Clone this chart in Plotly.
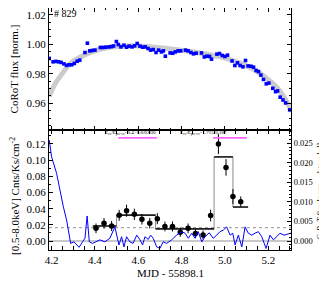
import plotly.graph_objects as go

# ---------------- data ----------------
# Top panel: CoRoT normalised flux
corot_t = [4.189, 4.207, 4.220, 4.232, 4.244, 4.257, 4.269, 4.281, 4.293, 4.305, 4.318, 4.330,
           4.354, 4.365, 4.376, 4.388, 4.400, 4.425, 4.437, 4.450, 4.465, 4.477, 4.486, 4.499,
           4.508, 4.520, 4.534, 4.546, 4.558, 4.571, 4.583, 4.595, 4.608, 4.620, 4.632, 4.645,
           4.657, 4.669, 4.682, 4.694, 4.707, 4.716, 4.725, 4.747, 4.759, 4.771, 4.784, 4.796,
           4.818, 4.830, 4.843, 4.855, 4.867, 4.892, 4.905, 4.917, 4.929, 4.938, 4.963, 4.975,
           4.988, 5.000, 5.012, 5.033, 5.046, 5.058, 5.070, 5.083, 5.095, 5.107, 5.120, 5.132,
           5.144, 5.155, 5.166, 5.178, 5.191, 5.203, 5.221, 5.234, 5.243, 5.255, 5.268, 5.280,
           5.299]
corot_flux = [0.9904, 0.9881, 0.9884, 0.9881, 0.9877, 0.9867, 0.9857, 0.9861, 0.9861, 0.9870, 0.9885, 0.9892,
              0.9944, 1.0007, 0.9955, 0.9958, 0.9960, 0.9978, 0.9978, 0.9980, 0.9982, 0.9984, 0.9988, 1.0018,
              0.9998, 0.9982, 0.9993, 0.9980, 0.9987, 0.9982, 0.9989, 1.0005, 0.9987, 0.9980, 0.9982, 0.9971,
              0.9960, 0.9964, 0.9944, 0.9960, 0.9948, 0.9955, 0.9919, 0.9941, 0.9939, 0.9948, 0.9955, 0.9955,
              0.9960, 0.9955, 0.9944, 0.9935, 0.9939, 0.9941, 0.9914, 0.9919, 0.9917, 0.9899, 0.9933, 0.9937,
              0.9924, 0.9917, 0.9926, 0.9887, 0.9856, 0.9874, 0.9856, 0.9847, 0.9890, 0.9853, 0.9851, 0.9845,
              0.9822, 0.9815, 0.9791, 0.9762, 0.9732, 0.9737, 0.9702, 0.9679, 0.9684, 0.9642, 0.9623, 0.9603,
              0.9556]

# Top panel: trend curve
trend_t = [4.189, 4.206, 4.224, 4.248, 4.271, 4.294, 4.331, 4.377, 4.423, 4.469, 4.515, 4.585,
           4.654, 4.723, 4.793, 4.862, 4.931, 5.001, 5.070, 5.116, 5.162, 5.208, 5.254, 5.301]
trend_flux = [0.9645, 0.9704, 0.9751, 0.9798, 0.9845, 0.9879, 0.9912, 0.9943, 0.9966, 0.9980, 0.9987, 0.9990,
              0.9983, 0.9973, 0.9960, 0.9946, 0.9929, 0.9906, 0.9872, 0.9842, 0.9803, 0.9751, 0.9684, 0.9570]

# Bottom panel: X-ray binned rate
xray_t = [4.405, 4.442, 4.477, 4.512, 4.546, 4.582, 4.617, 4.653, 4.688, 4.723,
          4.758, 4.794, 4.830, 4.864, 4.899, 4.934, 4.970, 5.005, 5.037, 5.073]
xray_rate = [0.0157, 0.0219, 0.0186, 0.0318, 0.0375, 0.0330, 0.0269, 0.0220, 0.0276, 0.0180,
             0.0180, 0.0110, 0.0157, 0.0092, 0.0075, 0.0315, 0.1200, 0.0910, 0.0550, 0.0486]
xray_err = [0.0060, 0.0065, 0.0062, 0.0068, 0.0075, 0.0070, 0.0065, 0.0065, 0.0068, 0.0060,
            0.0062, 0.0058, 0.0060, 0.0055, 0.0055, 0.0072, 0.0125, 0.0103, 0.0093, 0.0065]

# Bayesian blocks
block_edges = [4.39, 4.50, 4.68, 4.95, 5.037, 5.107]
block_rate = [0.0186, 0.0320, 0.0150, 0.1040, 0.0420]

quiescent_level = 0.0165

# Bottom panel: detrended CoRoT flux (right axis)
detr_t = [4.189, 4.200, 4.223, 4.238, 4.254, 4.269, 4.288, 4.303, 4.315, 4.327, 4.343, 4.354,
          4.364, 4.374, 4.389, 4.408, 4.423, 4.446, 4.469, 4.492, 4.500, 4.511, 4.523, 4.534,
          4.546, 4.561, 4.576, 4.593, 4.608, 4.620, 4.631, 4.646, 4.657, 4.669, 4.685, 4.700,
          4.715, 4.731, 4.754, 4.777, 4.800, 4.816, 4.831, 4.847, 4.862, 4.877, 4.893, 4.908,
          4.928, 4.946, 4.962, 4.977, 4.993, 5.008, 5.024, 5.036, 5.047, 5.062, 5.078, 5.093,
          5.108, 5.124, 5.139, 5.154, 5.170, 5.190, 5.208, 5.224, 5.239, 5.254, 5.273, 5.293,
          5.304]
detr_flux = [0.0258, 0.0215, 0.0173, 0.0130, 0.0088, 0.0054, -0.0006, -0.0002, -0.0008, -0.0016, -0.0002, 0.0007,
             0.0064, -0.0002, -0.0006, -0.0002, 0.0003, -0.0002, 0.0007, 0.0036, 0.0015, -0.0010, 0.0011, -0.0015,
             0.0011, -0.0002, -0.0006, 0.0015, 0.0003, -0.0010, 0.0011, 0.0004, 0.0015, 0.0007, -0.0015, -0.0019,
             -0.0002, -0.0006, 0.0003, 0.0015, 0.0024, 0.0020, 0.0007, 0.0020, 0.0007, 0.0024, -0.0002, 0.0011,
             0.0021, 0.0007, 0.0015, 0.0024, 0.0028, 0.0036, 0.0015, 0.0020, -0.0010, 0.0015, -0.0015, 0.0036,
             0.0020, 0.0015, 0.0020, 0.0024, 0.0011, -0.0019, 0.0015, 0.0003, 0.0011, 0.0020, 0.0015, 0.0018,
             0.0020]

# Energy ratio labels and their intervals
ratio_labels = ["E<sub>ev</sub>/E<sub>pre-ev</sub>=0.4+0.0/0.030",
                "E<sub>ev</sub>/E<sub>pre-ev</sub>=1.715/0.187"]
ratio_x0 = [4.508, 4.945]
ratio_x1 = [4.686, 5.102]
ratio_level = 0.1275
label_x = [4.562, 4.901]
label_level = 0.1337

star_label = "# 829"

# ---------------- figure ----------------
X_RANGE = [4.188, 5.305]
YL_RANGE = [-0.0111, 0.1373]
SCALE = 0.2066
YR_RANGE = [YL_RANGE[0] * SCALE, YL_RANGE[1] * SCALE]
YT_RANGE = [0.942, 1.0245]
SERIF = "Liberation Serif"

fig = go.Figure()

# top panel
fig.add_trace(go.Scatter(x=trend_t, y=trend_flux, xaxis="x2", yaxis="y2", mode="lines",
                         line=dict(color="#cccccc", width=5, shape="spline"), hoverinfo="skip"))
fig.add_trace(go.Scatter(x=corot_t, y=corot_flux, xaxis="x2", yaxis="y2", mode="markers",
                         marker=dict(symbol="square", size=3.6, color="#0000ff")))

# bottom panel reference lines
fig.add_trace(go.Scatter(x=X_RANGE, y=[0, 0], mode="lines",
                         line=dict(color="#c8c8c8", width=2), hoverinfo="skip"))
fig.add_trace(go.Scatter(x=X_RANGE, y=[quiescent_level] * 2, mode="lines",
                         line=dict(color="#777777", width=0.8, dash="dot"), hoverinfo="skip"))

# detrended CoRoT flux (right axis)
fig.add_trace(go.Scatter(x=detr_t, y=detr_flux, yaxis="y3", mode="lines",
                         line=dict(color="#0000ff", width=1)))

# Bayesian blocks: outline and levels
fig.add_trace(go.Scatter(x=block_edges, y=block_rate + [block_rate[-1]], mode="lines",
                         line=dict(color="#8a8a8a", width=1, shape="hv"), hoverinfo="skip"))
hx, hy = [], []
for i, r in enumerate(block_rate):
    hx += [block_edges[i], block_edges[i + 1], None]
    hy += [r, r, None]
fig.add_trace(go.Scatter(x=hx, y=hy, mode="lines", line=dict(color="#222222", width=1.6),
                         hoverinfo="skip"))

# X-ray points
fig.add_trace(go.Scatter(x=xray_t, y=xray_rate, mode="markers",
                         marker=dict(color="black", size=5.5),
                         error_y=dict(type="data", array=xray_err, color="black",
                                      thickness=1, width=0)))

# ratio intervals
mx, my = [], []
for a, b in zip(ratio_x0, ratio_x1):
    mx += [a, b, None]
    my += [ratio_level, ratio_level, None]
fig.add_trace(go.Scatter(x=mx, y=my, mode="lines", line=dict(color="#ff66ff", width=1.8),
                         hoverinfo="skip"))

annotations = []
for lab, cx in zip(ratio_labels, label_x):
    annotations.append(dict(x=cx, y=label_level, xref="x", yref="y", text=lab, showarrow=False,
                            font=dict(family=SERIF, size=5, color="black"),
                            xanchor="center", yanchor="middle"))

annotations.append(dict(x=4.2, y=1.0205, xref="x2", yref="y2", text=star_label, showarrow=False,
                        font=dict(family=SERIF, size=10, color="black"),
                        xanchor="left", yanchor="middle"))

# titles
annotations += [
    dict(x=-0.143, y=0.748, xref="paper", yref="paper", text="CoRoT flux [norm.]",
         textangle=-90, showarrow=False, xanchor="center", yanchor="middle",
         font=dict(family=SERIF, size=11, color="black")),
    dict(x=-0.143, y=0.225, xref="paper", yref="paper",
         text="[0.5-8.0keV] Cnts/Ks/cm<sup>-2</sup>",
         textangle=-90, showarrow=False, xanchor="center", yanchor="middle",
         font=dict(family=SERIF, size=11, color="black")),
    dict(x=1.125, y=0.244, xref="paper", yref="paper", text="CoRoT flux [norm. - detrended]",
         textangle=-90, showarrow=False, xanchor="center", yanchor="middle",
         font=dict(family=SERIF, size=7.5, color="black")),
    dict(x=0.5, y=-0.095, xref="paper", yref="paper", text="MJD - 55898.1",
         showarrow=False, xanchor="center", yanchor="middle",
         font=dict(family=SERIF, size=11, color="black")),
]

common_x = dict(range=X_RANGE, showline=True, linecolor="black", linewidth=1,
                mirror="allticks", ticks="inside", ticklen=4, tickcolor="black",
                dtick=0.2, tick0=4.2, tickformat=".1f",
                minor=dict(dtick=0.05, tick0=4.2, ticks="inside", ticklen=2, tickcolor="black"),
                showgrid=False, zeroline=False,
                tickfont=dict(family=SERIF, size=11, color="black"))

# page body adds an 8px offset, so the figure is sized/margined to compensate
fig.update_layout(
    width=319, height=277,
    margin=dict(l=41, r=36, t=0, b=35, autoexpand=False),
    paper_bgcolor="white", plot_bgcolor="white",
    showlegend=False,
    xaxis=dict(domain=[0, 1], anchor="y", **common_x),
    xaxis2=dict(domain=[0, 1], anchor="y2", matches="x", showticklabels=False, **common_x),
    yaxis=dict(domain=[0, 0.496], anchor="x", range=YL_RANGE, showline=True, linecolor="black",
               linewidth=1, mirror=True, ticks="inside", ticklen=4, tickcolor="black",
               dtick=0.02, tick0=0, tickformat=".2f",
               minor=dict(dtick=0.01, ticks="inside", ticklen=2, tickcolor="black"),
               showgrid=False, zeroline=False,
               tickfont=dict(family=SERIF, size=11, color="black")),
    yaxis3=dict(overlaying="y", side="right", anchor="x", range=YR_RANGE, showline=True,
                linecolor="black", linewidth=1, ticks="inside", ticklen=4, tickcolor="black",
                dtick=0.005, tick0=0, tickformat=".3f",
                minor=dict(dtick=0.001, ticks="inside", ticklen=2, tickcolor="black"),
                showgrid=False, zeroline=False,
                tickfont=dict(family=SERIF, size=8.5, color="black")),
    yaxis2=dict(domain=[0.496, 1], anchor="x2", range=YT_RANGE, showline=True, linecolor="black",
                linewidth=1, mirror="allticks", ticks="inside", ticklen=4, tickcolor="black",
                dtick=0.02, tick0=0.96, tickformat=".2f",
                minor=dict(dtick=0.005, ticks="inside", ticklen=2, tickcolor="black"),
                showgrid=False, zeroline=False,
                tickfont=dict(family=SERIF, size=11, color="black")),
    annotations=annotations,
)

fig.write_html("out.html")
